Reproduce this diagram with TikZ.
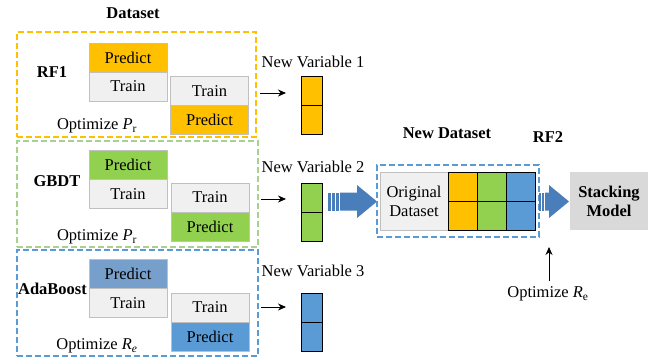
\documentclass[tikz,border=0pt]{standalone}
\usepackage{fontspec}
\setmainfont{Liberation Serif}
\usetikzlibrary{arrows.meta,calc}
\definecolor{cOr}{HTML}{FFC000}
\definecolor{cGr}{HTML}{92D050}
\definecolor{cBl}{HTML}{5B9BD5}
\definecolor{cBlL}{HTML}{779FCC}
\definecolor{cGrD}{HTML}{A9D18E}
\definecolor{cGray}{HTML}{F0F0F0}
\definecolor{cGrayB}{HTML}{C0C0C0}
\definecolor{cArr}{HTML}{4A7EBB}
\definecolor{cSM}{HTML}{D9D9D9}
\tikzset{
  cell/.style={rectangle, draw=cGrayB, line width=0.8pt, minimum width=78pt, minimum height=29pt, inner sep=0pt, font=\fontsize{16.5}{19}\selectfont},
  vcell/.style={rectangle, draw=black, line width=0.9pt, minimum width=21pt, minimum height=29pt, inner sep=0pt},
  dbox/.style={rectangle, dashed, dash pattern=on 6pt off 3pt, line width=1.1pt, inner sep=0pt},
  lbl/.style={font=\fontsize{16.5}{19}\selectfont, inner sep=0pt},
  blbl/.style={font=\fontsize{16.5}{19}\selectfont\bfseries, inner sep=0pt},
  sarr/.style={-{Stealth[length=8pt,width=7pt]}, line width=0.9pt},
  bigarr/.style={fill=cArr, draw=none}
}
\begin{document}
\begin{tikzpicture}[x=1pt,y=-1pt]
\useasboundingbox (0,0) rectangle (668,361);
% title
\node[blbl] (title) at (133,13) {Dataset};
% dashed boxes
\node[dbox, draw=cOr, minimum width=239pt, minimum height=105pt] (b1) at (136.5,84.5) {};
\node[dbox, draw=cGrD, minimum width=241pt, minimum height=106pt] (b2) at (137.5,194) {};
\node[dbox, draw=cBl, minimum width=241pt, minimum height=106pt] (b3) at (137.5,303) {};
% box 1
\node[blbl] (rf1) at (52,72) {RF1};
\node[cell, fill=cOr] (p1a) at (128,57.5) {Predict};
\node[cell, fill=cGray] (t1a) at (128,86.5) {Train};
\node[cell, fill=cGray] (t1b) at (209.5,91) {Train};
\node[cell, fill=cOr] (p1b) at (209.5,120) {Predict};
\node[lbl] (o1) at (97,126) {Optimize \textit{P}\textsubscript{r}};
% box 2
\node[blbl] (gbdt) at (57,181) {GBDT};
\node[cell, fill=cGr] (p2a) at (128,165) {Predict};
\node[cell, fill=cGray] (t2a) at (128,194) {Train};
\node[cell, fill=cGray] (t2b) at (210,197.5) {Train};
\node[cell, fill=cGr] (p2b) at (210,226.5) {Predict};
\node[lbl] (o2) at (97,237) {Optimize \textit{P}\textsubscript{r}};
% box 3
\node[blbl] (ada) at (52.5,289) {AdaBoost};
\node[cell, fill=cBlL] (p3a) at (128,274) {Predict};
\node[cell, fill=cGray] (t3a) at (128,303) {Train};
\node[cell, fill=cGray] (t3b) at (210,307.5) {Train};
\node[cell, fill=cBl] (p3b) at (210,336.5) {Predict};
\node[lbl] (o3) at (97,346) {Optimize \textit{R}\textsubscript{\textit{e}}};
% new variable columns
\node[lbl] (nv1) at (313,62) {New Variable 1};
\node[vcell, fill=cOr] (c1a) at (311.5,90.5) {};
\node[vcell, fill=cOr] (c1b) at (311.5,119.5) {};
\node[lbl] (nv2) at (313,167) {New Variable 2};
\node[vcell, fill=cGr] (c2a) at (311.5,197.5) {};
\node[vcell, fill=cGr] (c2b) at (311.5,226.5) {};
\node[lbl] (nv3) at (313,271) {New Variable 3};
\node[vcell, fill=cBl] (c3a) at (311.5,307.5) {};
\node[vcell, fill=cBl] (c3b) at (311.5,336.5) {};
% small arrows
\coordinate (s1) at (260,93);
\coordinate (e1) at (286,93);
\coordinate (s2) at (261,199);
\coordinate (e2) at (286,199);
\coordinate (s3) at (261,307);
\coordinate (e3) at (286,307);
\draw[sarr] (s1) -- (e1);
\draw[sarr] (s2) -- (e2);
\draw[sarr] (s3) -- (e3);
% big arrow 1
\fill[bigarr] (328,192.5) rectangle (330.5,210.5);
\fill[bigarr] (332,192.5) rectangle (334.5,210.5);
\fill[bigarr] (336,192.5) rectangle (338.5,210.5);
\fill[bigarr] (340,192.5) -- (357,192.5) -- (357,185) -- (377,201.5) -- (357,218) -- (357,210.5) -- (340,210.5) -- cycle;
% new dataset
\node[blbl] (ndt) at (447,133) {New Dataset};
\node[blbl] (rf2) at (548,137) {RF2};
\node[dbox, draw=cBl, minimum width=162pt, minimum height=72pt] (nd) at (458,201) {};
\node[rectangle, draw=cGrayB, line width=0.8pt, fill=cGray, minimum width=68pt, minimum height=58pt, inner sep=0pt, align=center, font=\fontsize{16.5}{19}\selectfont] (od) at (414,201) {Original\\Dataset};
\node[vcell, minimum width=29pt, fill=cOr] (n1a) at (462.5,186.5) {};
\node[vcell, minimum width=29pt, fill=cOr] (n1b) at (462.5,215.5) {};
\node[vcell, minimum width=29pt, fill=cGr] (n2a) at (491.5,186.5) {};
\node[vcell, minimum width=29pt, fill=cGr] (n2b) at (491.5,215.5) {};
\node[vcell, minimum width=29pt, fill=cBl] (n3a) at (520.5,186.5) {};
\node[vcell, minimum width=29pt, fill=cBl] (n3b) at (520.5,215.5) {};
% big arrow 2
\fill[bigarr] (539,192.5) rectangle (540.5,210.5);
\fill[bigarr] (542,192.5) rectangle (543.5,210.5);
\fill[bigarr] (545,192.5) -- (549,192.5) -- (549,185) -- (569,201.5) -- (549,218) -- (549,210.5) -- (545,210.5) -- cycle;
% stacking model
\node[rectangle, fill=cSM, minimum width=78pt, minimum height=58pt, inner sep=0pt, align=center, font=\fontsize{16.5}{19}\selectfont\bfseries] (sm) at (609,201) {Stacking\\Model};
% optimize R_e
\node[lbl] (o4) at (548,294) {Optimize \textit{R}\textsubscript{e}};
\coordinate (u1) at (549,281);
\coordinate (u2) at (549,247);
\draw[sarr] (u1) -- (u2);
\end{tikzpicture}
\end{document}
